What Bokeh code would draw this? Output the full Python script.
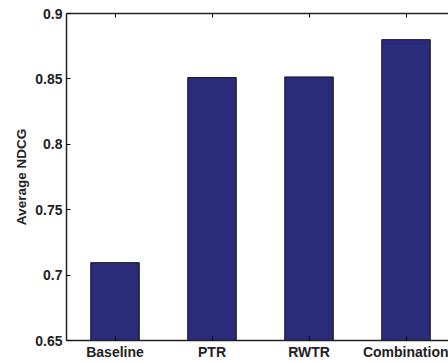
from bokeh.plotting import figure
from bokeh.models import FixedTicker, LinearAxis, Range1d
from bokeh.embed import file_html
from bokeh.resources import INLINE

categories = ["Baseline", "PTR", "RWTR", "Combination"]
values = [0.7095, 0.851, 0.8515, 0.880]
positions = [1, 2, 3, 4]
y_ticks = [0.65, 0.7, 0.75, 0.8, 0.85, 0.9]
y_tick_labels = ["0.65", "0.7", "0.75", "0.8", "0.85", "0.9"]

FONT = "Liberation Sans"

p = figure(width=448, height=362, output_backend="svg", toolbar_location=None,
           x_range=Range1d(0.5, 4.438), y_range=Range1d(0.65, 0.9),
           min_border_left=66, min_border_right=0, min_border_top=13, min_border_bottom=22,
           y_axis_label="Average NDCG")
p.outline_line_color = None
p.xgrid.grid_line_color = None
p.ygrid.grid_line_color = None
p.background_fill_color = "white"

p.vbar(x=positions, top=values, bottom=0.65, width=0.5,
       fill_color="#2a2c7b", line_color="#111111", line_width=1)

xa = p.xaxis[0]
xa.ticker = FixedTicker(ticks=positions)
xa.major_label_overrides = {pos: lab for pos, lab in zip(positions, categories)}
xa.major_tick_in = 4
xa.major_tick_out = 0
xa.minor_tick_line_color = None
xa.major_label_standoff = 3
xa.major_label_text_font = FONT
xa.major_label_text_font_style = "bold"
xa.major_label_text_font_size = "14px"
xa.major_label_text_color = "#222222"
xa.axis_line_color = "#222222"
xa.axis_line_width = 1.5

ya = p.yaxis[0]
ya.ticker = FixedTicker(ticks=y_ticks)
ya.major_label_overrides = {t: l for t, l in zip(y_ticks, y_tick_labels)}
ya.major_tick_in = 4
ya.major_tick_out = 0
ya.minor_tick_line_color = None
ya.major_label_standoff = 4
ya.major_label_text_font = FONT
ya.major_label_text_font_style = "bold"
ya.major_label_text_font_size = "14px"
ya.major_label_text_color = "#222222"
ya.axis_line_color = "#222222"
ya.axis_line_width = 1.5
ya.axis_label_text_font = FONT
ya.axis_label_text_font_style = "bold"
ya.axis_label_text_font_size = "13.5px"
ya.axis_label_text_color = "#222222"
ya.axis_label_standoff = 3

top = LinearAxis(ticker=FixedTicker(ticks=positions))
top.major_label_overrides = {pos: "" for pos in positions}
top.major_label_text_font_size = "1px"
top.major_label_standoff = 0
top.major_tick_in = 4
top.major_tick_out = 0
top.minor_tick_line_color = None
top.axis_line_color = "#222222"
top.axis_line_width = 1.5
p.add_layout(top, "above")

open("out.html", "w").write(file_html(p, INLINE))
